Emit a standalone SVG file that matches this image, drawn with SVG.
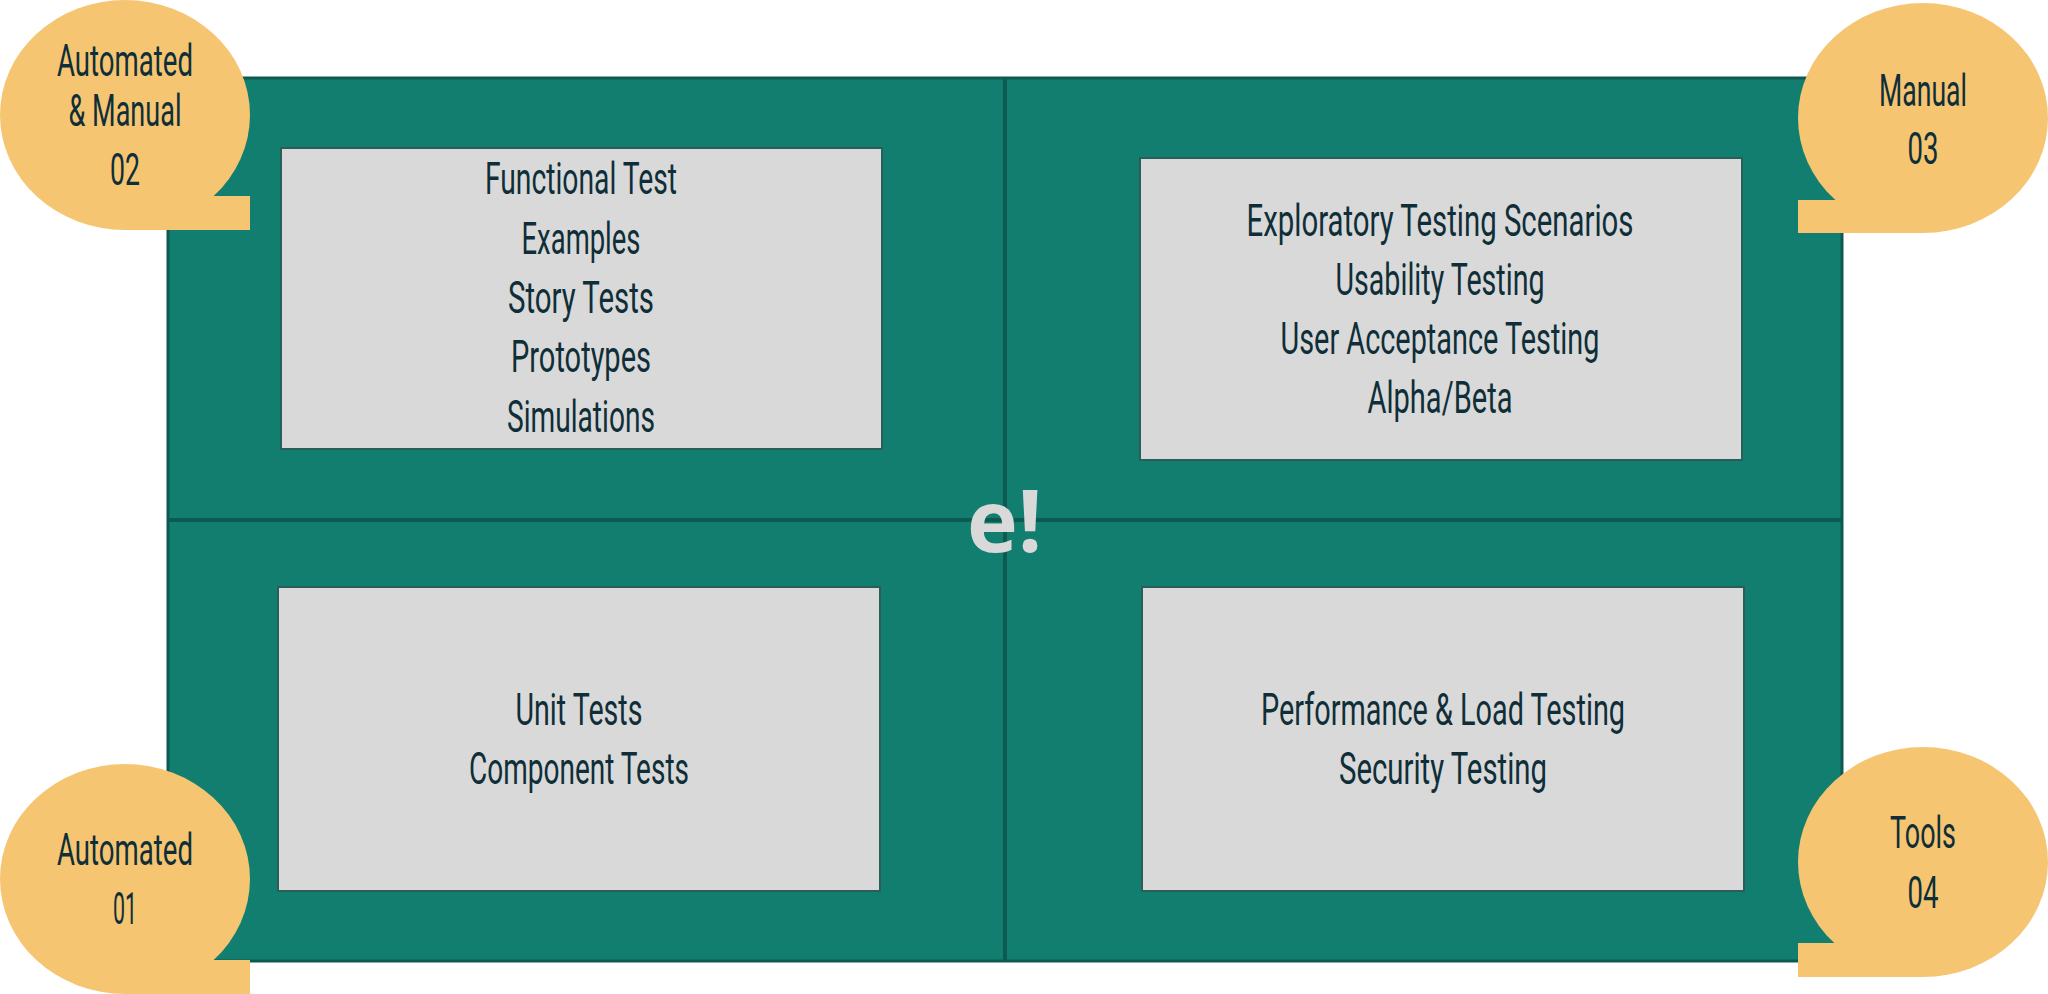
<svg xmlns="http://www.w3.org/2000/svg" width="2048" height="994" viewBox="0 0 2048 994">
  <style>
    .frame { fill: #117e6f; stroke: #0e5a52; stroke-width: 3; }
    .divider { stroke: #0e5a52; stroke-width: 4; fill: none; }
    .card { fill: #d9d9d9; stroke: #2c5e58; stroke-width: 2; }
    .bubble { fill: #f5c572; }
    .lbl { font-family: Roboto, "Liberation Sans", sans-serif; font-size: 45px; fill: #0f2e38; text-anchor: middle; }
    .logo { font-family: "Open Sans", Lato, sans-serif; font-weight: 700; font-size: 86px; fill: #d9d9d9; }
  </style>

  <!-- quadrant frame -->
  <g id="frame">
    <rect class="frame" x="168" y="78" width="1674" height="883"/>
  </g>

  <!-- quadrant dividers -->
  <g id="connectors">
    <line class="divider" x1="1005" y1="78" x2="1005" y2="961"/>
    <line class="divider" x1="168" y1="520" x2="1842" y2="520"/>
  </g>

  <!-- Q2: top-left -->
  <g id="card-q2">
    <rect class="card" x="281" y="148" width="601" height="301"/>
    <text class="lbl" x="581" y="194" textLength="192" lengthAdjust="spacingAndGlyphs">Functional Test</text>
    <text class="lbl" x="581" y="254" textLength="119" lengthAdjust="spacingAndGlyphs">Examples</text>
    <text class="lbl" x="581" y="313" textLength="146" lengthAdjust="spacingAndGlyphs">Story Tests</text>
    <text class="lbl" x="581" y="372" textLength="140" lengthAdjust="spacingAndGlyphs">Prototypes</text>
    <text class="lbl" x="581" y="432" textLength="148" lengthAdjust="spacingAndGlyphs">Simulations</text>
  </g>

  <!-- Q3: top-right -->
  <g id="card-q3">
    <rect class="card" x="1140" y="158" width="602" height="302"/>
    <text class="lbl" x="1440" y="236" textLength="387" lengthAdjust="spacingAndGlyphs">Exploratory Testing Scenarios</text>
    <text class="lbl" x="1440" y="295" textLength="209" lengthAdjust="spacingAndGlyphs">Usability Testing</text>
    <text class="lbl" x="1440" y="354" textLength="319" lengthAdjust="spacingAndGlyphs">User Acceptance Testing</text>
    <text class="lbl" x="1440" y="413" textLength="145" lengthAdjust="spacingAndGlyphs">Alpha/Beta</text>
  </g>

  <!-- Q1: bottom-left -->
  <g id="card-q1">
    <rect class="card" x="278" y="587" width="602" height="304"/>
    <text class="lbl" x="579" y="725" textLength="127" lengthAdjust="spacingAndGlyphs">Unit Tests</text>
    <text class="lbl" x="579" y="784" textLength="220" lengthAdjust="spacingAndGlyphs">Component Tests</text>
  </g>

  <!-- Q4: bottom-right -->
  <g id="card-q4">
    <rect class="card" x="1142" y="587" width="602" height="304"/>
    <text class="lbl" x="1443" y="725" textLength="364" lengthAdjust="spacingAndGlyphs">Performance &amp; Load Testing</text>
    <text class="lbl" x="1443" y="784" textLength="208" lengthAdjust="spacingAndGlyphs">Security Testing</text>
  </g>

  <!-- centre mark -->
  <g id="logo">
    <text class="logo" x="967" y="552">e!</text>
  </g>

  <!-- corner speech bubbles -->
  <g id="bubble-q2">
    <ellipse class="bubble" cx="125" cy="115" rx="125" ry="115"/>
    <rect class="bubble" x="125" y="196" width="125" height="34"/>
    <text class="lbl" x="125" y="76" textLength="136" lengthAdjust="spacingAndGlyphs">Automated</text>
    <text class="lbl" x="125" y="126" textLength="113" lengthAdjust="spacingAndGlyphs">&amp; Manual</text>
    <text class="lbl" x="125" y="185" textLength="30" lengthAdjust="spacingAndGlyphs">02</text>
  </g>

  <g id="bubble-q3">
    <ellipse class="bubble" cx="1923" cy="118" rx="125" ry="115"/>
    <rect class="bubble" x="1798" y="200" width="125" height="33"/>
    <text class="lbl" x="1923" y="106" textLength="88" lengthAdjust="spacingAndGlyphs">Manual</text>
    <text class="lbl" x="1923" y="164" textLength="31" lengthAdjust="spacingAndGlyphs">03</text>
  </g>

  <g id="bubble-q1">
    <ellipse class="bubble" cx="125" cy="879" rx="125" ry="115"/>
    <rect class="bubble" x="125" y="960" width="125" height="34"/>
    <text class="lbl" x="125" y="865" textLength="136" lengthAdjust="spacingAndGlyphs">Automated</text>
    <text class="lbl" x="125" y="924" textLength="24" lengthAdjust="spacingAndGlyphs">01</text>
  </g>

  <g id="bubble-q4">
    <ellipse class="bubble" cx="1923" cy="862" rx="125" ry="115"/>
    <rect class="bubble" x="1798" y="943" width="125" height="34"/>
    <text class="lbl" x="1923" y="848" textLength="66" lengthAdjust="spacingAndGlyphs">Tools</text>
    <text class="lbl" x="1923" y="908" textLength="31" lengthAdjust="spacingAndGlyphs">04</text>
  </g>
</svg>
